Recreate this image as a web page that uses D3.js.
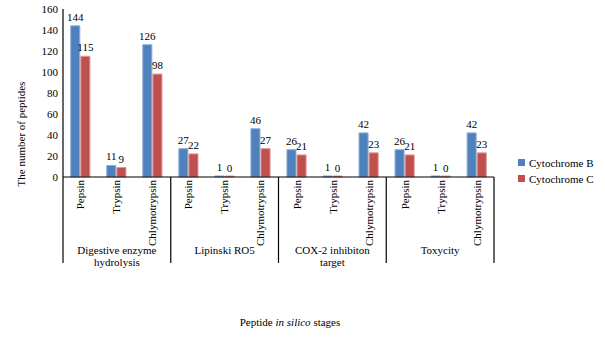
<!DOCTYPE html>
<html>
<head>
<meta charset="utf-8">
<script src="https://cdn.jsdelivr.net/npm/d3@7"></script>
<style>
  body { margin: 0; background: #fff; }
</style>
</head>
<body>
<svg id="chart" width="605" height="340" font-family="'Liberation Serif', 'Times New Roman', 'DejaVu Serif', serif"></svg>
<script>
const groups = ["Digestive enzyme hydrolysis", "Lipinski RO5", "COX-2 inhibiton target", "Toxycity"];
const groupLines = [["Digestive enzyme", "hydrolysis"], ["Lipinski RO5"], ["COX-2 inhibiton", "target"], ["Toxycity"]];
const enzymes = ["Pepsin", "Trypsin", "Chlymotrypsin"];
const seriesNames = ["Cytochrome B", "Cytochrome C"];
const cytochromeB = [144, 11, 126, 27, 1, 46, 26, 1, 42, 26, 1, 42];
const cytochromeC = [115, 9, 98, 22, 0, 27, 21, 0, 23, 21, 0, 23];
const yTicks = [0, 20, 40, 60, 80, 100, 120, 140, 160];

const colors = ["#4f81bd", "#c0504d"];
const strokes = ["#8fb0da", "#dc9a98"];
const fs = 11;

const svg = d3.select("#chart");
const plotLeft = 63, plotRight = 494, plotTop = 9, plotBottom = 177;

const rows = [];
groups.forEach((g, gi) => {
  enzymes.forEach((e, ei) => {
    const i = gi * enzymes.length + ei;
    rows.push({ key: i, group: gi, enzyme: e, values: [cytochromeB[i], cytochromeC[i]] });
  });
});

const x = d3.scaleBand().domain(rows.map((d) => d.key)).range([plotLeft, plotRight])
  .paddingInner(0.44).paddingOuter(0.2);
const xSeries = d3.scaleBand().domain([0, 1]).range([0, x.bandwidth()]);
const y = d3.scaleLinear().domain([0, 160]).range([plotBottom, plotTop]);

// y axis
svg.append("line").attr("x1", plotLeft).attr("x2", plotLeft).attr("y1", y(160)).attr("y2", plotBottom)
  .attr("stroke", "#000").attr("stroke-width", 1.2);
svg.selectAll(".ytick").data(yTicks).enter().append("text")
  .attr("class", "ytick")
  .attr("x", plotLeft - 5).attr("y", (d) => y(d) + 4)
  .attr("text-anchor", "end").attr("font-size", fs)
  .text((d) => d);

// bars as paths, so a zero value still shows its outline along the axis
const cat = svg.selectAll(".cat").data(rows).enter().append("g")
  .attr("class", "cat")
  .attr("transform", (d) => `translate(${x(d.key)},0)`);

const barPath = (d, i) => {
  const x0 = xSeries(i) + 0.5, w = xSeries.bandwidth() - 1;
  const y0 = Math.min(y(d), plotBottom - 1);
  return `M${x0},${plotBottom}V${y0}H${x0 + w}V${plotBottom}Z`;
};

cat.selectAll("path").data((d) => d.values).enter().append("path")
  .attr("d", barPath)
  .attr("fill", (d, i) => colors[i])
  .attr("stroke", (d, i) => strokes[i])
  .attr("stroke-width", 1);

cat.selectAll(".val").data((d) => d.values).enter().append("text")
  .attr("class", "val")
  .attr("x", (d, i) => xSeries(i) + xSeries.bandwidth() / 2)
  .attr("y", (d) => y(d) - 5)
  .attr("text-anchor", "middle").attr("font-size", fs)
  .text((d) => d);

// x axis line and group separators
svg.append("line").attr("x1", plotLeft).attr("x2", plotRight).attr("y1", plotBottom).attr("y2", plotBottom)
  .attr("stroke", "#000").attr("stroke-width", 1.2);

const groupScale = d3.scaleBand().domain(d3.range(groups.length)).range([plotLeft, plotRight]);
const seps = d3.range(groups.length + 1).map((i) => i < groups.length ? groupScale(i) : plotRight);
svg.selectAll(".sep").data(seps).enter().append("line")
  .attr("x1", (d) => d).attr("x2", (d) => d)
  .attr("y1", plotBottom).attr("y2", 263)
  .attr("stroke", "#000").attr("stroke-width", 1.2);

// rotated enzyme labels
svg.selectAll(".enz").data(rows).enter().append("text")
  .attr("class", "enz")
  .attr("transform", (d) => `translate(${x(d.key) + x.bandwidth() / 2 + 4},180) rotate(-90)`)
  .attr("text-anchor", "end").attr("font-size", fs)
  .text((d) => d.enzyme);

// group labels
const gl = svg.selectAll(".grp").data(groupLines).enter().append("text")
  .attr("class", "grp")
  .attr("x", (d, i) => groupScale(i) + groupScale.bandwidth() / 2)
  .attr("y", 254)
  .attr("text-anchor", "middle").attr("font-size", fs);
gl.selectAll("tspan").data((d) => d).enter().append("tspan")
  .attr("x", function () { return d3.select(this.parentNode).attr("x"); })
  .attr("dy", (d, i) => i === 0 ? 0 : 12)
  .text((d) => d);

// axis titles
const xt = svg.append("text").attr("x", 290).attr("y", 326)
  .attr("text-anchor", "middle").attr("font-size", fs);
xt.append("tspan").text("Peptide ");
xt.append("tspan").attr("font-style", "italic").text("in silico");
xt.append("tspan").text(" stages");

svg.append("text").attr("transform", "translate(25,134) rotate(-90)")
  .attr("text-anchor", "middle").attr("font-size", fs)
  .text("The number of peptides");

// legend
const lg = svg.selectAll(".lg").data(seriesNames).enter().append("g")
  .attr("class", "lg")
  .attr("transform", (d, i) => `translate(518,${159 + i * 16})`);
lg.append("rect").attr("width", 7).attr("height", 7).attr("fill", (d, i) => colors[i]);
lg.append("text").attr("x", 11).attr("y", 7.5).attr("font-size", fs).text((d) => d);
</script>
</body>
</html>
